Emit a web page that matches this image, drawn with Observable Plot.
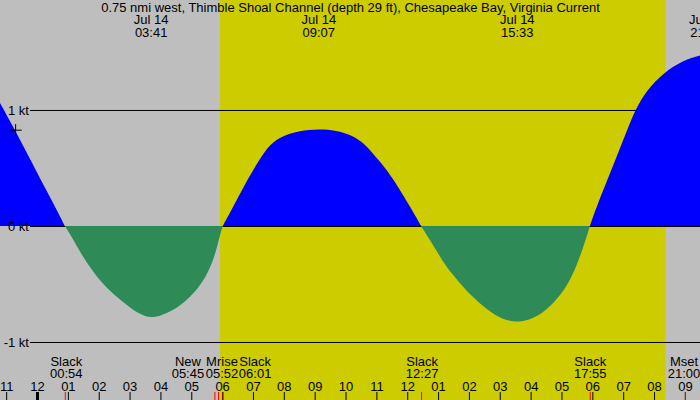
<!DOCTYPE html>
<html><head><meta charset="utf-8">
<script src="https://cdn.jsdelivr.net/npm/d3@7"></script>
<script src="https://cdn.jsdelivr.net/npm/@observablehq/plot@0.6"></script>
<style>html,body{margin:0;padding:0;overflow:hidden;background:#bebebe}</style>
</head><body><div id="chart"></div>
<script>
// ---- data (hours from midnight, Jul 14) ----
const title = "0.75 nmi west, Thimble Shoal Channel (depth 29 ft), Chesapeake Bay, Virginia Current";
const curveHours = [-1.2, -0.6, 0.0, 0.5, 0.9, 1.16, 1.45, 1.83, 2.26, 2.91, 3.28, 3.72, 4.2, 4.69, 5.23, 5.55, 5.77, 5.9, 6.02, 6.31, 6.88, 7.21, 7.55, 8.0, 8.5, 9.12, 9.7, 10.2, 10.63, 11.06, 11.5, 12.15, 12.45, 12.9, 13.23, 13.66, 14.14, 14.79, 15.55, 16.36, 16.9, 17.26, 17.49, 17.7, 17.92, 18.14, 18.57, 19.0, 19.38, 19.76, 20.3, 20.95, 21.5];
const curveKnots = [1.06, 0.77, 0.46, 0.21, 0, -0.11, -0.25, -0.40, -0.54, -0.68, -0.756, -0.80, -0.756, -0.68, -0.54, -0.40, -0.25, -0.11, 0, 0.14, 0.43, 0.57, 0.71, 0.78, 0.822, 0.835, 0.825, 0.784, 0.71, 0.57, 0.43, 0.14, 0, -0.19, -0.34, -0.48, -0.62, -0.77, -0.85, -0.77, -0.62, -0.48, -0.34, -0.19, 0, 0.17, 0.45, 0.74, 1.0, 1.17, 1.32, 1.43, 1.47];
const levels = [1, 0, -1];
const levelLabels = ["1 kt", "0 kt", "-1 kt"];
const peakDates = ["Jul 14", "Jul 14", "Jul 14", "Jul 14"];
const peakTimes = ["03:41", "09:07", "15:33", "21:41"];
const eventNames = ["Slack", "New", "Mrise", "Slack", "Slack", "Slack", "Mset"];
const eventTimes = ["00:54", "05:45", "05:52", "06:01", "12:27", "17:55", "21:00"];
const hourTicks = [-1,0,1,2,3,4,5,6,7,8,9,10,11,12,13,14,15,16,17,18,19,20,21];
const hourLabels = ["11","12","01","02","03","04","05","06","07","08","09","10","11","12","01","02","03","04","05","06","07","08","09"];
const sunrise = "05:56", sunset = "20:22";
const nowMark = {hour: -0.71, knots: 0.83};

// ---- layout ----
const W = 700, H = 400;
const xDomain = [-1.2, 21.49], yDomain = [-1.5, 1.948];
const xs = Plot.scale({x: {domain: xDomain, range: [0, W]}});
const ys = Plot.scale({y: {domain: yDomain, range: [H, 0]}});
const toH = s => { const [h, m] = s.split(":").map(Number); return h + m / 60; };
const font = "Liberation Sans, Arial, sans-serif";

// split the curve into flood / ebb segments at slack points
const pts = curveHours.map((h, i) => ({h, v: curveKnots[i]}));
const segs = []; let cur = [];
for (const p of pts) { cur.push(p); if (p.v === 0 && cur.length > 1) { segs.push(cur); cur = [p]; } }
if (cur.length > 1) segs.push(cur);
const rows = segs.flatMap((s, i) => {
  const kind = s.some(p => p.v > 0) ? "flood" : "ebb";
  return s.map(p => ({...p, seg: i, kind}));
});

// label nudges to avoid collisions (pixels)
const nudge = [1, -27, 3.5, 32, 0.5, 0, -1.4];
const events = eventNames.map((n, i) => ({name: n, time: eventTimes[i], h: toH(eventTimes[i])}));
const eventLabels = events.map((e, i) => ({...e, lx: xs.invert(xs.apply(e.h) + nudge[i])}));
const peaks = peakTimes.map((t, i) => ({h: toH(t), text: peakDates[i] + "\n" + t}));

const tickTop = ys.invert(392), tickBot = yDomain[0];

const chart = Plot.plot({
  width: W, height: H, margin: 0,
  x: {domain: xDomain, axis: null},
  y: {domain: yDomain, axis: null},
  style: {background: "#bebebe", fontFamily: font, fontSize: "13px", overflow: "hidden"},
  marks: [
    Plot.rect([{a: toH(sunrise), b: toH(sunset)}], {x1: "a", x2: "b", y1: yDomain[0], y2: yDomain[1], fill: "#cccc00"}),
    Plot.ruleY(levels, {y: d => d, x1: xs.invert(30), x2: xDomain[1], stroke: "black", strokeWidth: 1}),
    Plot.areaY(rows.filter(d => d.kind === "flood"), {x: "h", y: "v", z: "seg", fill: "#0000ff", curve: "basis"}),
    Plot.areaY(rows.filter(d => d.kind === "ebb"), {x: "h", y: "v", z: "seg", fill: "#2e8b57", curve: "basis"}),
    Plot.text(levels, {y: d => d, text: (d, i) => levelLabels[i], frameAnchor: "left", textAnchor: "end", dx: 28.5, fill: "black", fontFamily: font, fontSize: 13}),
    Plot.text([title], {text: d => d, frameAnchor: "top", lineAnchor: "bottom", dy: 11.5, fill: "black", fontFamily: font, fontSize: 13}),
    Plot.text(peaks, {x: "h", text: "text", frameAnchor: "top", lineAnchor: "bottom", dy: 36, lineHeight: 0.94, fill: "black", fontFamily: font, fontSize: 13}),
    Plot.text(eventLabels, {x: "lx", text: d => d.name + "\n" + d.time, frameAnchor: "bottom", lineAnchor: "bottom", dy: -22.5, lineHeight: 0.9, fill: "black", fontFamily: font, fontSize: 13}),
    Plot.text(hourTicks, {x: d => d, text: (d, i) => hourLabels[i], frameAnchor: "bottom", lineAnchor: "bottom", dy: -10, fill: "black", fontFamily: font, fontSize: 13}),
    Plot.ruleX(hourTicks, {x: d => d, y1: tickTop, y2: tickBot, stroke: "black", strokeWidth: d => d === 0 ? 3 : 1}),
    Plot.ruleX(events, {x: "h", y1: tickTop, y2: tickBot, stroke: "red", strokeWidth: 1}),
    Plot.dot([nowMark], {x: "hour", y: "knots", symbol: "plus", r: 4, stroke: "black", strokeWidth: 1})
  ]
});
document.getElementById("chart").append(chart);
</script>
</body></html>
